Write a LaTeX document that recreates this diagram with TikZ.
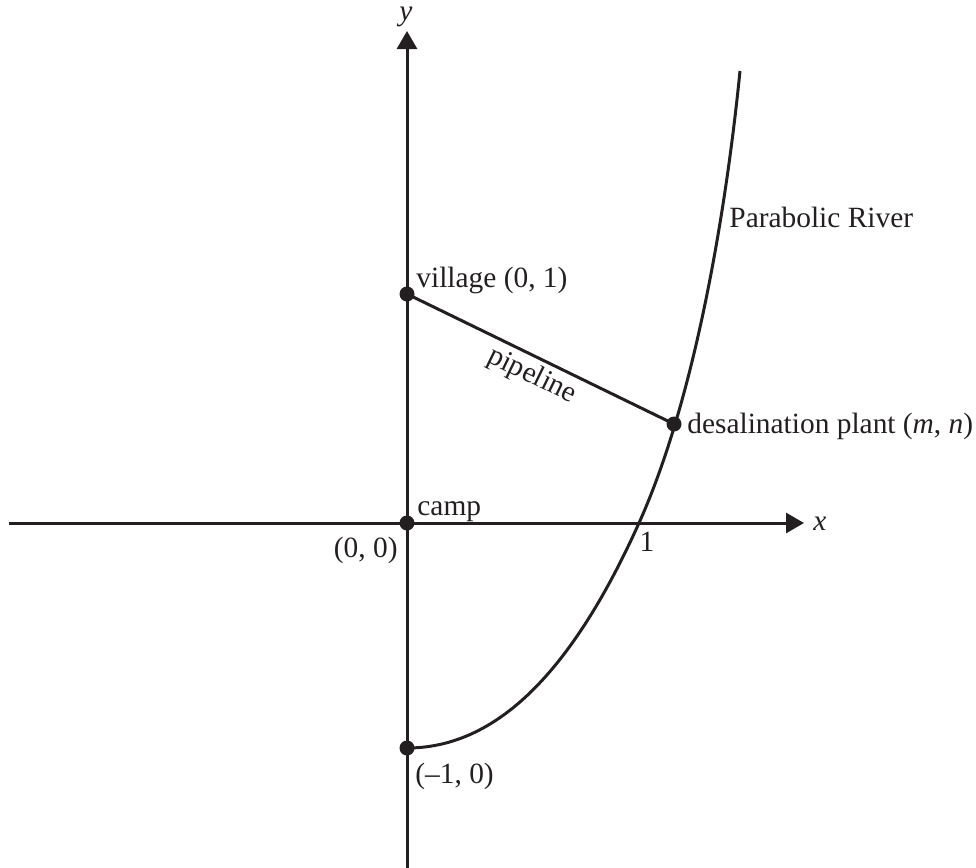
\documentclass[tikz,border=0pt]{standalone}
\usepackage{fontspec}
\setmainfont{Liberation Serif}
\usetikzlibrary{arrows.meta}
\definecolor{ink}{HTML}{231F20}
\begin{document}
\begin{tikzpicture}[x=0.5pt,y=-0.5pt,
  axisline/.style={draw=ink,line width=1.5pt,-{Triangle[length=9pt,width=10pt]}},
  curveline/.style={draw=ink,line width=1.5pt},
  dotnode/.style={circle,fill=ink,inner sep=0pt,minimum size=7.5pt},
  lbl/.style={inner sep=0pt,text=ink,font=\fontsize{14.7}{17}\selectfont}]
\useasboundingbox (0,0) rectangle (976,868);
% axes
\coordinate (xl) at (9,523);
\coordinate (xr) at (804,523);
\coordinate (yb) at (407,868);
\coordinate (yt) at (407,31);
\draw[axisline] (xl) -- (xr);
\draw[axisline] (yb) -- (yt);
% points
\node[dotnode] (village) at (407,294) {};
\node[dotnode] (camp) at (407,523) {};
\node[dotnode] (vertex) at (407,748) {};
\node[dotnode] (plant) at (674,424) {};
\coordinate (cross) at (639,523);
\coordinate (rivertop) at (740,71);
% river curve
\draw[curveline] (vertex.center) .. controls (490,748) and (567,683) .. (cross)
  .. controls (693,403) and (725,221) .. (rivertop);
% pipeline
\draw[curveline] (village.center) -- (plant.center);
% labels
\node[lbl,anchor=base] (ylab) at (406,20) {\textit{y}};
\node[lbl,anchor=base west] (xlab) at (813,530) {\textit{x}};
\node[lbl,anchor=base west] (river) at (729,227) {Parabolic River};
\node[lbl,anchor=base west] (villab) at (416,287) {village (0, 1)};
\node[lbl,rotate=-26] (pipe) at (532,376) {pipeline};
\node[lbl,anchor=base west] (plantlab) at (687,433) {desalination plant (\textit{m}, \textit{n})};
\node[lbl,anchor=base west] (camplab) at (417,515) {camp};
\node[lbl,anchor=base east] (origlab) at (398,557) {(0, 0)};
\node[lbl,anchor=base] (onelab) at (647,551) {1};
\node[lbl,anchor=base west] (vertlab) at (415,783) {(–1, 0)};
\end{tikzpicture}
\end{document}
